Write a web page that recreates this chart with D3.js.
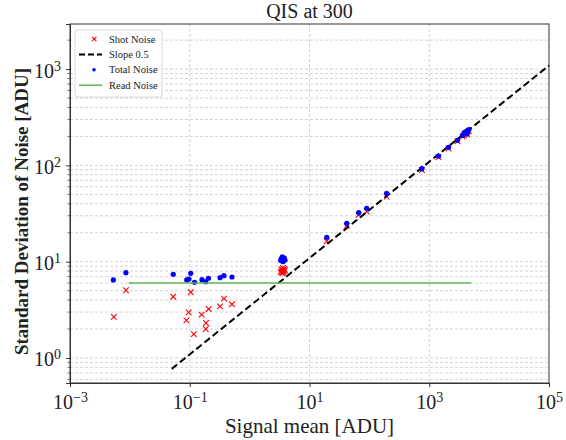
<!DOCTYPE html>
<html>
<head>
<meta charset="utf-8">
<script src="https://cdn.jsdelivr.net/npm/d3@7"></script>
<style>
  body { margin: 0; background: #fff; }
  text { font-family: "Liberation Serif", "DejaVu Serif", serif; }
</style>
</head>
<body>
<div class="chart"></div>
<script>
// set the dimensions and margins of the graph
const margin = {top: 24, right: 17, bottom: 57, left: 70};
const width = 566 - margin.left - margin.right;
const height = 440 - margin.top - margin.bottom;

// shot noise (red x)
const shotX = [0.0054, 0.0086, 0.053, 0.104, 0.096, 0.088, 0.117, 0.158, 0.187, 0.185, 0.207, 0.32, 0.373, 0.507,
  3.3, 3.4, 3.5, 3.6, 3.7, 3.8, 3.45, 3.55, 3.65, 3.9,
  19.4, 41.9, 66.3, 90.2, 194, 755, 1429, 2098, 2963,
  3600, 3800, 4000, 4200, 4400, 4600, 3900, 4300];
const shotY = [2.67, 5.05, 4.33, 4.81, 2.98, 2.46, 1.77, 2.82, 2.31, 2.0, 3.23, 3.44, 4.13, 3.61,
  7.8, 8.3, 7.6, 8.6, 8.0, 8.4, 7.9, 8.2, 7.7, 8.1,
  16.3, 23.6, 30.6, 33.2, 47.5, 89.5, 122, 150, 178,
  199, 205, 212, 218, 224, 229, 214, 209];

// total noise (blue dots)
const totalX = [0.0053, 0.0086, 0.053, 0.089, 0.097, 0.104, 0.12, 0.16, 0.185, 0.205, 0.32, 0.373, 0.507,
  3.3, 3.4, 3.5, 3.6, 3.7, 3.8, 3.45, 3.55, 3.65, 3.9,
  19.4, 41.9, 66.3, 90.2, 194, 755, 1429, 2098, 2963,
  3600, 3800, 4000, 4200, 4400, 4600, 3900, 4300];
const totalY = [6.46, 7.69, 7.4, 6.46, 6.61, 7.58, 6.11, 6.5, 6.2, 6.73, 6.82, 7.16, 6.94,
  10.3, 10.8, 11.2, 10.0, 10.6, 10.9, 10.5, 11.0, 10.2, 10.4,
  17.9, 25.0, 32.3, 35.9, 51.3, 92.4, 125, 154, 182,
  205, 211, 218, 224, 230, 236, 220, 215];

// read noise level and its signal range
const readNoise = 6.0;
const readRange = [0.0095, 5000];

// slope 0.5 reference line
const slopeGain = 3.45;
const slopeRange = [0.05, 1e5];

const xTicks = [1e-3, 1e-1, 1e1, 1e3, 1e5];
const xTickExp = ["\u22123", "\u22121", "1", "3", "5"];
const yTicks = [1, 10, 100, 1000];
const yTickExp = ["0", "1", "2", "3"];

const legendLabels = ["Shot Noise", "Slope 0.5", "Total Noise", "Read Noise"];

var svg = d3.select(".chart")
  .append("svg")
  .attr("width", width + margin.left + margin.right)
  .attr("height", height + margin.top + margin.bottom)
  .append("g")
  .attr("transform", "translate(" + margin.left + "," + margin.top + ")");

var x = d3.scaleLog().domain([1e-3, 1e5]).range([0, width]);
var y = d3.scaleLog().domain([0.55, 2940]).range([height, 0]);

// grid
var yGrid = [];
for (var e = -1; e <= 3; e++) {
  for (var m = 1; m <= 9; m++) {
    var v = m * Math.pow(10, e);
    if (v > y.domain()[0] && v < y.domain()[1]) yGrid.push(v);
  }
}
svg.append("g").selectAll("line")
  .data(yGrid).enter().append("line")
  .attr("x1", 0).attr("x2", width)
  .attr("y1", function(d) { return y(d); })
  .attr("y2", function(d) { return y(d); })
  .attr("stroke", "#c8c8c8").attr("stroke-width", 0.8)
  .attr("stroke-dasharray", "3,2");
svg.append("g").selectAll("line")
  .data(xTicks.slice(1, -1)).enter().append("line")
  .attr("y1", 0).attr("y2", height)
  .attr("x1", function(d) { return x(d); })
  .attr("x2", function(d) { return x(d); })
  .attr("stroke", "#c8c8c8").attr("stroke-width", 0.8)
  .attr("stroke-dasharray", "3,2");

// axes
function supLabels(sel, exps) {
  sel.selectAll(".tick text").each(function(d, i) {
    var t = d3.select(this).text(null);
    t.append("tspan").text("10");
    t.append("tspan").attr("dy", "-0.5em").attr("font-size", "14px").text(exps[i]);
  });
}

var xAxis = svg.append("g")
  .attr("transform", "translate(0," + height + ")")
  .call(d3.axisBottom(x).tickValues(xTicks).tickSize(4).tickPadding(3));
supLabels(xAxis, xTickExp);
xAxis.selectAll(".tick text").attr("font-size", "20px").attr("dy", "0.95em").attr("fill", "#222");

var yAxis = svg.append("g")
  .call(d3.axisLeft(y).tickValues(yTicks).tickSize(4).tickPadding(5));
supLabels(yAxis, yTickExp);
yAxis.selectAll(".tick text").attr("font-size", "20px").attr("dy", "0.4em").attr("fill", "#222");

svg.append("g").selectAll("line")
  .data(yGrid.filter(function(d) { return yTicks.indexOf(d) < 0; }))
  .enter().append("line")
  .attr("x1", -2.5).attr("x2", 0)
  .attr("y1", function(d) { return y(d); })
  .attr("y2", function(d) { return y(d); })
  .attr("stroke", "#333").attr("stroke-width", 0.7);

svg.selectAll(".domain").attr("stroke", "#333");
svg.selectAll(".tick line").attr("stroke", "#333");

// frame
svg.append("rect")
  .attr("width", width).attr("height", height)
  .attr("fill", "none").attr("stroke", "#333").attr("stroke-width", 1);

// shot noise crosses
var cross = 2.8;
svg.append("g").selectAll("path")
  .data(d3.range(shotX.length)).enter().append("path")
  .attr("d", function(i) {
    var cx = x(shotX[i]), cy = y(shotY[i]);
    return "M" + (cx - cross) + "," + (cy - cross) + "L" + (cx + cross) + "," + (cy + cross) +
      "M" + (cx - cross) + "," + (cy + cross) + "L" + (cx + cross) + "," + (cy - cross);
  })
  .attr("stroke", "#ff0000").attr("stroke-width", 1.1).attr("fill", "none");

// slope line
svg.append("line")
  .attr("x1", x(slopeRange[0])).attr("y1", y(slopeGain * Math.sqrt(slopeRange[0])))
  .attr("x2", x(slopeRange[1])).attr("y2", y(slopeGain * Math.sqrt(slopeRange[1])))
  .attr("stroke", "#000").attr("stroke-width", 2).attr("stroke-dasharray", "7,3.5");

// total noise dots
svg.append("g").selectAll("circle")
  .data(d3.range(totalX.length)).enter().append("circle")
  .attr("cx", function(i) { return x(totalX[i]); })
  .attr("cy", function(i) { return y(totalY[i]); })
  .attr("r", 2.6)
  .attr("fill", "#0000ff");

// read noise
svg.append("line")
  .attr("x1", x(readRange[0])).attr("x2", x(readRange[1]))
  .attr("y1", y(readNoise)).attr("y2", y(readNoise))
  .attr("stroke", "#5cb85c").attr("stroke-width", 1.5);

// titles
svg.append("text")
  .attr("x", width / 2).attr("y", -6)
  .attr("text-anchor", "middle").attr("font-size", "20px").attr("fill", "#222")
  .text("QIS at 300");
svg.append("text")
  .attr("x", width / 2).attr("y", height + 50)
  .attr("text-anchor", "middle").attr("font-size", "21px").attr("fill", "#222")
  .text("Signal mean [ADU]");
svg.append("text")
  .attr("transform", "translate(" + (-42) + "," + (height / 2 + 8) + ") rotate(-90)")
  .attr("text-anchor", "middle").attr("font-size", "19px").attr("font-weight", "bold").attr("fill", "#222")
  .text("Standard Deviation of Noise [ADU]");

// legend
var lg = svg.append("g").attr("transform", "translate(5,6)");
lg.append("rect")
  .attr("width", 87).attr("height", 67).attr("rx", 3)
  .attr("fill", "#fff").attr("fill-opacity", 0.85)
  .attr("stroke", "#d0d0d0").attr("stroke-width", 0.8);
legendLabels.forEach(function(name, i) {
  var ly = 9 + i * 15.4;
  var g = lg.append("g").attr("transform", "translate(0," + ly + ")");
  if (i == 0) {
    g.append("path").attr("d", "M17,-2.2L21.4,2.2M17,2.2L21.4,-2.2")
      .attr("stroke", "#ff0000").attr("stroke-width", 1.1);
  } else if (i == 1) {
    g.append("line").attr("x1", 4).attr("x2", 27).attr("stroke", "#000")
      .attr("stroke-width", 2).attr("stroke-dasharray", "6,3");
  } else if (i == 2) {
    g.append("circle").attr("cx", 19).attr("r", 1.8).attr("fill", "#0000ff");
  } else {
    g.append("line").attr("x1", 4).attr("x2", 27).attr("stroke", "#5cb85c").attr("stroke-width", 1.5);
  }
  g.append("text").attr("x", 34).attr("dy", "0.35em")
    .attr("font-size", "10.5px").attr("fill", "#222").text(name);
});
</script>
</body>
</html>
